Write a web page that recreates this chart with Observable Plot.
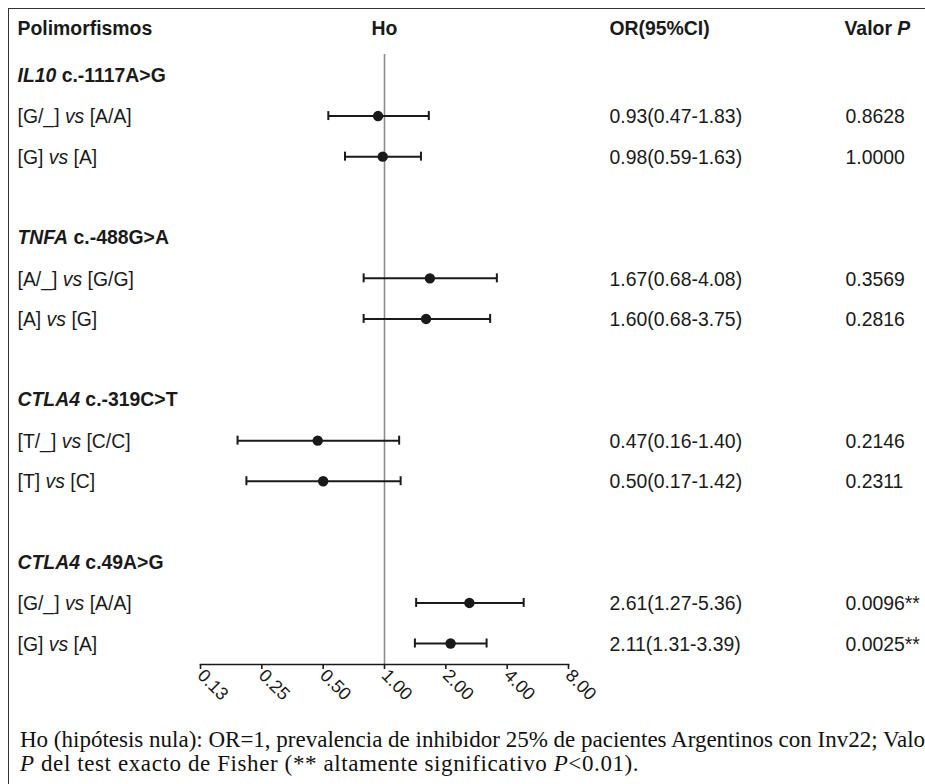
<!DOCTYPE html>
<html><head><meta charset="utf-8">
<script src="https://cdn.jsdelivr.net/npm/d3@7"></script>
<script src="https://cdn.jsdelivr.net/npm/@observablehq/plot@0.6"></script>
<style>
html,body{margin:0;padding:0;background:#fff;}
body{width:925px;height:784px;overflow:hidden;position:relative;font-family:"Liberation Sans",Arial,sans-serif;}
#frame{position:absolute;left:8px;top:8px;width:1000px;height:900px;border-left:1.5px solid #333;border-top:1.5px solid #333;}
#chart{position:absolute;left:0;top:0;}
#caption{position:absolute;left:20px;top:728px;font-family:"Liberation Serif","Times New Roman",serif;font-size:23px;line-height:24px;white-space:nowrap;color:#111;}
#caption .l2{letter-spacing:0.6px;}
</style></head><body>
<div id="frame"></div>
<div id="chart"></div>
<div id="caption"><span class="l1">Ho (hipótesis nula): OR=1, prevalencia de inhibidor 25% de pacientes Argentinos con Inv22; Valor</span><br><span class="l2"><i>P</i> del test exacto de Fisher (** altamente significativo <i>P</i>&lt;0.01).</span></div>
<script>
const genes = ["*IL10* c.-1117A>G", "*TNFA* c.-488G>A", "*CTLA4* c.-319C>T", "*CTLA4* c.49A>G"];
const comparisons = ["[G/_] *vs* [A/A]", "[G] *vs* [A]", "[A/_] *vs* [G/G]", "[A] *vs* [G]", "[T/_] *vs* [C/C]", "[T] *vs* [C]", "[G/_] *vs* [A/A]", "[G] *vs* [A]"];
const oddsRatio = [0.93, 0.98, 1.67, 1.60, 0.47, 0.50, 2.61, 2.11];
// whisker ends as drawn in the picture
const barLow = [0.53, 0.64, 0.79, 0.79, 0.19, 0.21, 1.43, 1.41];
const barHigh = [1.65, 1.51, 3.56, 3.30, 1.18, 1.20, 4.82, 3.17];
const orLabels = ["0.93(0.47-1.83)", "0.98(0.59-1.63)", "1.67(0.68-4.08)", "1.60(0.68-3.75)", "0.47(0.16-1.40)", "0.50(0.17-1.42)", "2.61(1.27-5.36)", "2.11(1.31-3.39)"];
const pLabels = ["0.8628", "1.0000", "0.3569", "0.2816", "0.2146", "0.2311", "0.0096**", "0.0025**"];
const headers = ["Polimorfismos", "Ho", "OR(95%CI)", "Valor *P*"];
const tickValues = [0.125, 0.25, 0.5, 1, 2, 4, 8];
const tickLabels = ["0.13", "0.25", "0.50", "1.00", "2.00", "4.00", "8.00"];

const geneRows = genes.map((g, i) => ({label: g, slot: 4 * i}));
const dataRows = comparisons.map((c, i) => ({
  label: c, or: oddsRatio[i], lo: barLow[i], hi: barHigh[i],
  ci: orLabels[i], p: pLabels[i], slot: 4 * Math.floor(i / 2) + 1 + (i % 2)
}));

const ink = "#1a1a1a";
const hdr = {lineAnchor: "middle", dy: -26, fontWeight: "bold", fill: ink};
const plot = Plot.plot({
  width: 925, height: 720,
  marginLeft: 200, marginRight: 357, marginTop: 54, marginBottom: 56,
  style: {fontFamily: '"Liberation Sans", Arial, sans-serif', fontSize: "19.4px", color: ink, background: "transparent", overflow: "visible"},
  x: {type: "log", base: 2, domain: [0.125, 8]},
  y: {domain: [0, 14], range: [75, 643], axis: null},
  marks: [
    Plot.ruleX([1], {stroke: "#8c8c8c", strokeWidth: 1.6}),
    Plot.frame({anchor: "bottom", stroke: ink, strokeWidth: 1.6}),
    Plot.axisX({ticks: tickValues, tickFormat: d => tickLabels[tickValues.indexOf(d)], tickRotate: 45, tickSize: 5, tickPadding: 3, fontSize: 18, stroke: ink, strokeWidth: 1.6, fill: ink, label: null}),
    Plot.link(dataRows, {x1: "lo", x2: "hi", y1: "slot", y2: "slot", stroke: ink, strokeWidth: 2}),
    Plot.ruleX(dataRows, {x: "lo", y1: "slot", y2: "slot", insetTop: -4.5, insetBottom: -4.5, stroke: ink, strokeWidth: 2}),
    Plot.ruleX(dataRows, {x: "hi", y1: "slot", y2: "slot", insetTop: -4.5, insetBottom: -4.5, stroke: ink, strokeWidth: 2}),
    Plot.dot(dataRows, {x: "or", y: "slot", r: 5.2, fill: ink, stroke: null}),
    Plot.text(geneRows, {text: "label", y: "slot", frameAnchor: "left", dx: -183, textAnchor: "start", fontWeight: "bold", fill: ink}),
    Plot.text(dataRows, {text: "label", y: "slot", frameAnchor: "left", dx: -183, dy: 1, textAnchor: "start", fill: ink}),
    Plot.text(dataRows, {text: "ci", y: "slot", frameAnchor: "right", dx: 41, dy: 1, textAnchor: "start", fill: ink}),
    Plot.text(dataRows, {text: "p", y: "slot", frameAnchor: "right", dx: 277, dy: 1, textAnchor: "start", fill: ink}),
    Plot.text([headers[0]], {text: d => d, frameAnchor: "top-left", dx: -183, textAnchor: "start", ...hdr}),
    Plot.text([{label: headers[1], x: 1}], {text: "label", x: "x", frameAnchor: "top", ...hdr}),
    Plot.text([headers[2]], {text: d => d, frameAnchor: "top-right", dx: 41, textAnchor: "start", ...hdr}),
    Plot.text([headers[3]], {text: d => d, frameAnchor: "top-right", dx: 276, textAnchor: "start", ...hdr})
  ]
});

// turn *...* segments into italic tspans
d3.select(plot).selectAll("text").each(function () {
  const s = this.textContent;
  if (!/\*[^*]+\*/.test(s)) return;
  this.textContent = "";
  s.split(/(\*[^*]+\*)/).filter(Boolean).forEach(part => {
    const t = document.createElementNS("http://www.w3.org/2000/svg", "tspan");
    if (/^\*[^*]+\*$/.test(part)) { t.setAttribute("font-style", "italic"); t.textContent = part.slice(1, -1); }
    else t.textContent = part;
    this.appendChild(t);
  });
});
document.getElementById("chart").appendChild(plot);
</script>
</body></html>
